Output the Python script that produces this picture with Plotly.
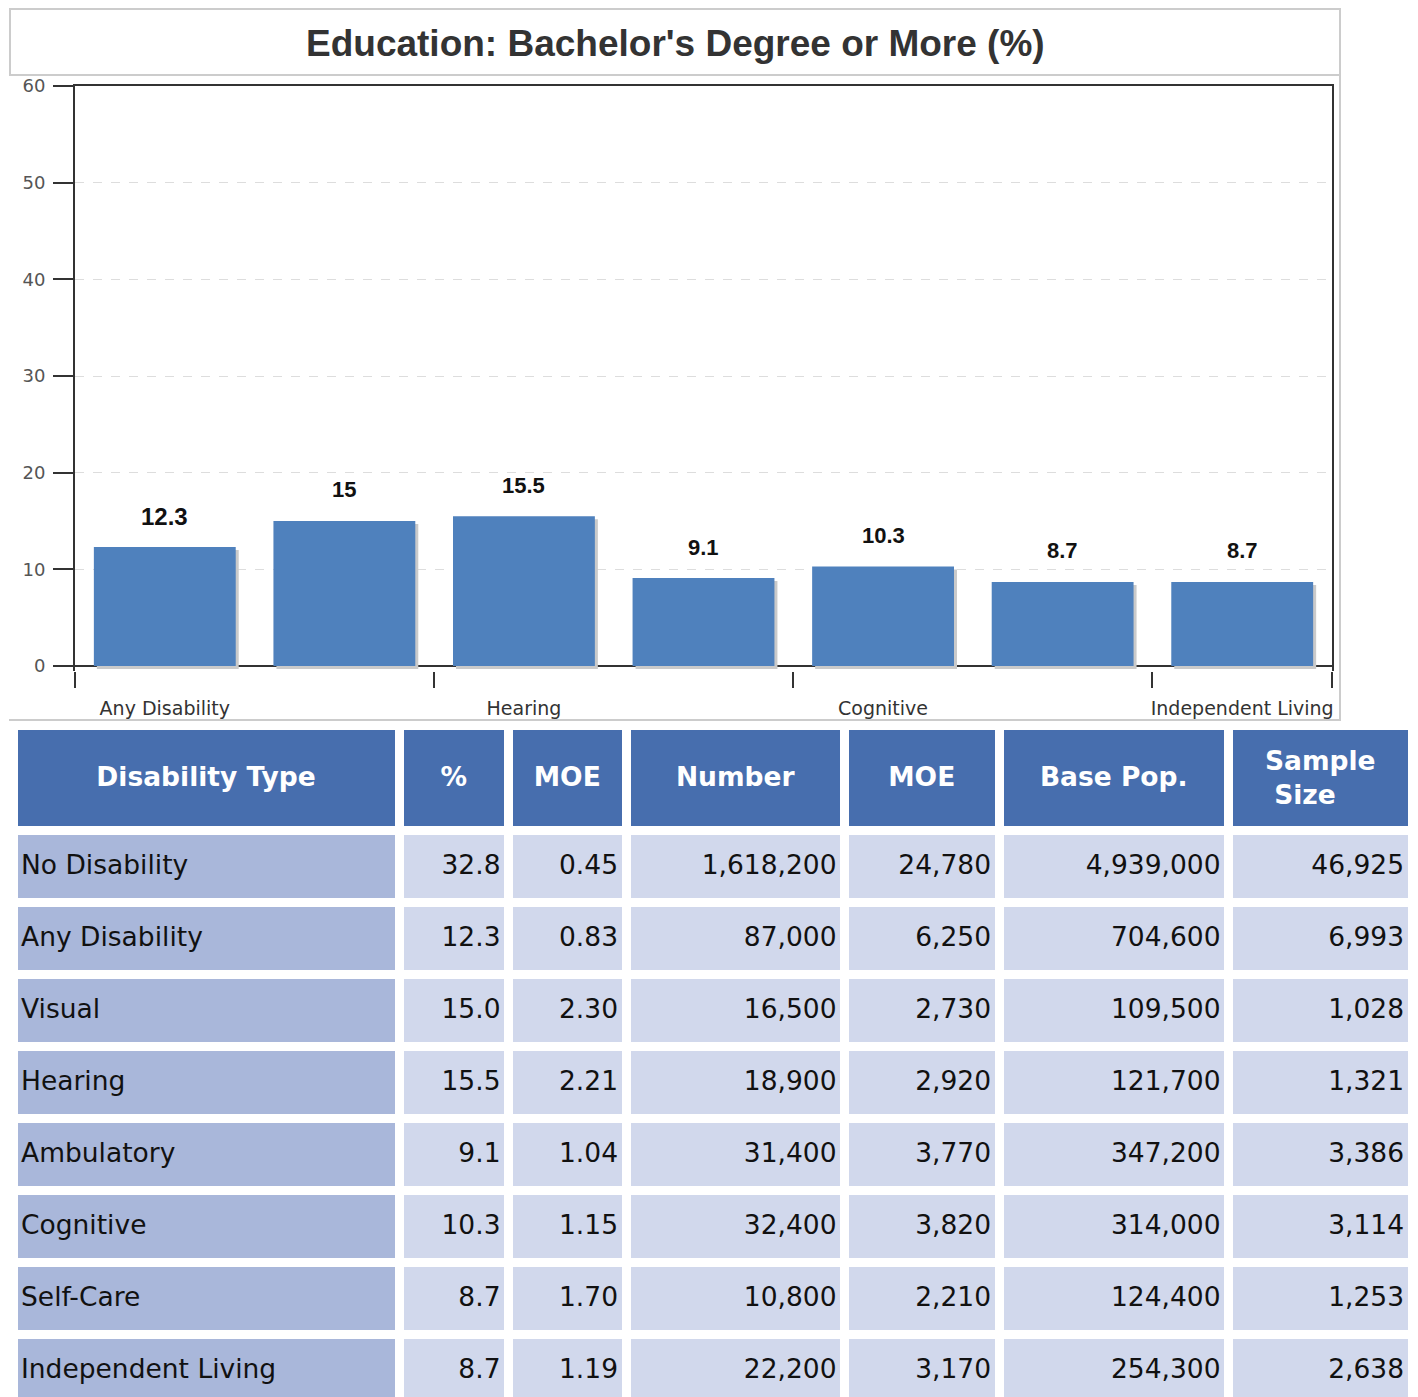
import plotly.graph_objects as go

# ---------------- data ----------------
chart_title = "Education: Bachelor's Degree or More (%)"
bar_categories = ["Any Disability", "Visual", "Hearing", "Ambulatory",
                  "Cognitive", "Self-Care", "Independent Living"]
bar_values = [12.3, 15, 15.5, 9.1, 10.3, 8.7, 8.7]
bar_labels = ["12.3", "15", "15.5", "9.1", "10.3", "8.7", "8.7"]
shown_category_labels = ["Any Disability", "Hearing", "Cognitive", "Independent Living"]
y_ticks = [0, 10, 20, 30, 40, 50, 60]

table_headers = ["Disability Type", "%", "MOE", "Number", "MOE", "Base Pop.", "Sample<br>Size"]
disability_type = ["No Disability", "Any Disability", "Visual", "Hearing",
                   "Ambulatory", "Cognitive", "Self-Care", "Independent Living"]
pct = ["32.8", "12.3", "15.0", "15.5", "9.1", "10.3", "8.7", "8.7"]
pct_moe = ["0.45", "0.83", "2.30", "2.21", "1.04", "1.15", "1.70", "1.19"]
number = ["1,618,200", "87,000", "16,500", "18,900", "31,400", "32,400", "10,800", "22,200"]
number_moe = ["24,780", "6,250", "2,730", "2,920", "3,770", "3,820", "2,210", "3,170"]
base_pop = ["4,939,000", "704,600", "109,500", "121,700", "347,200", "314,000", "124,400", "254,300"]
sample_size = ["46,925", "6,993", "1,028", "1,321", "3,386", "3,114", "1,253", "2,638"]

# ---------------- layout constants ----------------
OX, OY = 8, 8          # page (body) margin
W, H = 1410, 1450
def px_x(p): return (p - OX) / W
def px_y(p): return 1 - (p - OY) / H

BAR_COLOR = "#4F81BD"
SHADOW = "#CACACA"
HEADER_FILL = "#476EAE"
FIRST_COL_FILL = "#A9B7DA"
CELL_FILL = "#D1D8EC"

n = len(bar_categories)
xs = list(range(n))
u = 60 / 580.0                 # data units per pixel (y)
y_low = -4.5 * u
shadow_dx = 3 / (1257 / n)

fig = go.Figure()

# shadow bars (base axis, shifted range)
fig.add_trace(go.Bar(
    x=xs, y=bar_values, base=-3 * u,
    marker=dict(color=SHADOW, line=dict(width=0)),
    width=0.79, xaxis="x", yaxis="y", hoverinfo="skip", showlegend=False))
# main bars (overlay axis, drawn on top)
fig.add_trace(go.Bar(
    x=xs, y=bar_values,
    marker=dict(color=BAR_COLOR, line=dict(width=0)),
    width=0.79, xaxis="x2", yaxis="y", showlegend=False))

# value labels
for i, (v, t) in enumerate(zip(bar_values, bar_labels)):
    fig.add_annotation(x=i, y=v, xref="x2", yref="y", text="<b>%s</b>" % t,
                       showarrow=False, yanchor="middle", yshift=31,
                       font=dict(family="Liberation Sans", size=24 if i == 0 else 22,
                                 color="#111111"))

# ---------------- table ----------------
cols = [disability_type, pct, pct_moe, number, number_moe, base_pop, sample_size]
col_w = [386, 109.5, 117.5, 218.5, 154.5, 229.5, 183.5]
nrows = len(disability_type)
HDR_H, ROW_H, LINE_W = 104.5, 72, 9
T_TOP = 725.5
TXT_SHIFT_HDR, TXT_SHIFT_ROW, TXT_SHIFT_2LINE = 27, 16, 11
HDR_FONT = dict(family="DejaVu Sans", size=26.5, color="white")
CELL_FONT = dict(family="DejaVu Sans", size=26.5, color="#111111")
CLEAR = "rgba(0,0,0,0)"

def bold(h):
    return "<b>" + h.replace("<br>", "</b><br><b>") + "</b>"

def centre_lines(h):
    # plotly tables left-align the lines of a multi-line cell; pad the short line
    parts = h.split("<br>")
    longest = max(len(p) for p in parts)
    return "<br>".join("\u00a0" * int(round((longest - len(p)) * 0.55)) + p for p in parts)

# table 1: fills and lines only
fig.add_trace(go.Table(
    domain=dict(x=[px_x(13), px_x(1412)], y=[0, px_y(T_TOP)]),
    columnwidth=col_w,
    header=dict(values=[""] * len(table_headers),
                fill_color=HEADER_FILL, line=dict(color="white", width=LINE_W),
                height=HDR_H, font=HDR_FONT),
    cells=dict(values=[[""] * nrows for _ in cols],
               fill_color=[[FIRST_COL_FILL] * nrows] + [[CELL_FILL] * nrows] * 6,
               line=dict(color="white", width=LINE_W), height=ROW_H, font=CELL_FONT),
    hoverinfo="skip",
))
# table 2: single-line header text and cell text, shifted to sit centred
fig.add_trace(go.Table(
    domain=dict(x=[px_x(13), px_x(1412)], y=[0, px_y(T_TOP + TXT_SHIFT_HDR)]),
    columnwidth=col_w,
    header=dict(values=[bold(h) if "<br>" not in h else "" for h in table_headers],
                fill_color=CLEAR, line=dict(color=CLEAR, width=LINE_W),
                align="center", height=HDR_H - (TXT_SHIFT_HDR - TXT_SHIFT_ROW),
                font=HDR_FONT),
    cells=dict(values=cols,
               fill_color=CLEAR, line=dict(color=CLEAR, width=LINE_W),
               align=["left"] + ["right"] * 6, height=ROW_H, font=CELL_FONT),
    hoverinfo="skip",
))
# table 3: two-line header text
fig.add_trace(go.Table(
    domain=dict(x=[px_x(13), px_x(1412)], y=[px_y(T_TOP + HDR_H + 10), px_y(T_TOP + TXT_SHIFT_2LINE)]),
    columnwidth=col_w,
    header=dict(values=[bold(centre_lines(h)) if "<br>" in h else "" for h in table_headers],
                fill_color=CLEAR, line=dict(color=CLEAR, width=LINE_W),
                align="center", height=HDR_H - TXT_SHIFT_2LINE,
                font=HDR_FONT),
    cells=dict(values=[[""] for _ in cols], fill_color=CLEAR,
               line=dict(color=CLEAR, width=LINE_W), height=1, font=CELL_FONT),
    hoverinfo="skip",
))

cat_idx = [bar_categories.index(c) for c in shown_category_labels]
boundaries = [-0.5, 1.5, 3.5, 5.5, 6.5]
x_dom = [px_x(75), px_x(1332)]

fig.update_layout(
    width=W, height=H,
    margin=dict(l=0, r=0, t=0, b=0, pad=0, autoexpand=False),
    paper_bgcolor="white", plot_bgcolor="white",
    xaxis=dict(domain=x_dom, range=[-0.5 - shadow_dx, n - 0.5 - shadow_dx], side="top",
               showticklabels=False, ticks="", showgrid=False, zeroline=False,
               showline=True, linecolor="#333333", linewidth=2, fixedrange=True,
               automargin=False),
    xaxis2=dict(domain=x_dom, overlaying="x", side="bottom", anchor="y",
                range=[-0.5, n - 0.5],
                tickmode="array", tickvals=cat_idx, ticktext=shown_category_labels,
                ticks="outside", ticklen=21, tickcolor="rgba(0,0,0,0)",
                tickfont=dict(family="DejaVu Sans", size=19, color="#333333"),
                showgrid=False, zeroline=False, showline=False,
                minor=dict(tickmode="array", tickvals=boundaries, ticks="outside",
                           ticklen=16, tickwidth=2, tickcolor="#333333", showgrid=False),
                fixedrange=True, automargin=False),
    yaxis=dict(domain=[px_y(666 + 4.5), px_y(86)],
               range=[y_low, 60], tickvals=y_ticks,
               ticks="outside", ticklen=20, tickwidth=2, tickcolor="#333333",
               tickfont=dict(family="DejaVu Sans", size=18, color="#555555"),
               showgrid=True, gridcolor="#DDDDDD", griddash="dash", gridwidth=1,
               zeroline=True, zerolinecolor="#333333", zerolinewidth=2,
               showline=True, mirror=True, linecolor="#333333", linewidth=2,
               ticklabelstandoff=4, fixedrange=True, automargin=False),
    font=dict(family="DejaVu Sans"),
)

# title box and chart frame (decoration)
fig.add_shape(type="rect", xref="paper", yref="paper",
              x0=px_x(10), x1=px_x(1340), y0=px_y(75), y1=px_y(9),
              line=dict(color="#CCCCCC", width=2), fillcolor="rgba(0,0,0,0)", layer="below")
fig.add_shape(type="line", xref="paper", yref="paper",
              x0=px_x(1340), x1=px_x(1340), y0=px_y(720), y1=px_y(75),
              line=dict(color="#CCCCCC", width=2))
fig.add_shape(type="line", xref="paper", yref="paper",
              x0=px_x(9), x1=px_x(1341), y0=px_y(720), y1=px_y(720),
              line=dict(color="#CCCCCC", width=2))
fig.add_annotation(xref="paper", yref="paper", x=px_x(675), y=px_y(43),
                   text="<b>%s</b>" % chart_title, showarrow=False,
                   xanchor="center", yanchor="middle",
                   font=dict(family="Liberation Sans", size=37, color="#333333"))

fig.write_html("out.html")
